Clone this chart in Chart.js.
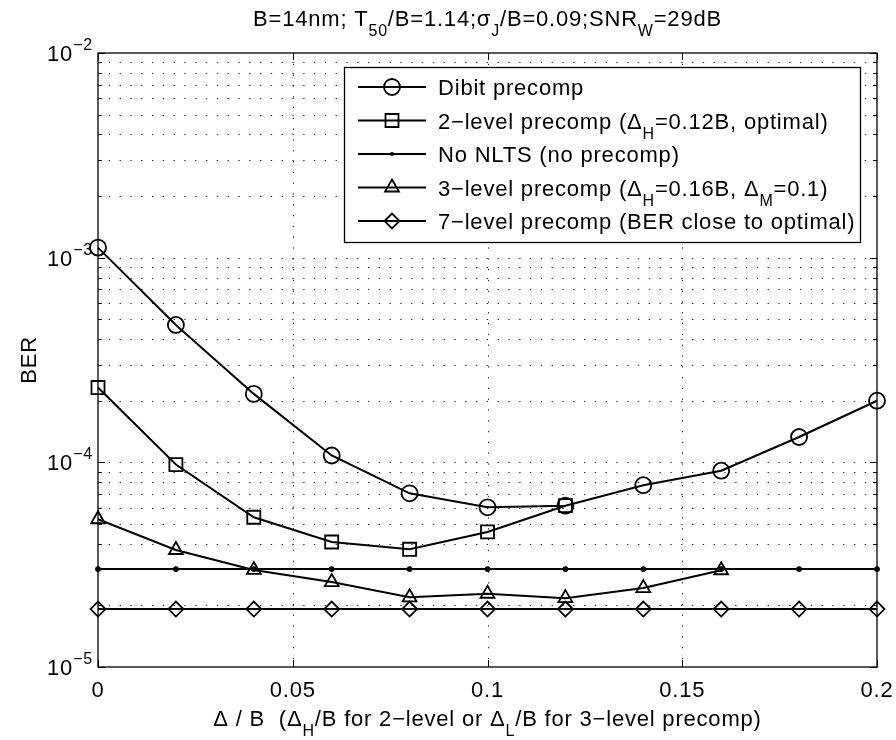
<!DOCTYPE html>
<html>
<head>
<meta charset="utf-8">
<script src="https://cdn.jsdelivr.net/npm/chart.js@4.4.1/dist/chart.umd.min.js"></script>
<style>
  html, body { margin: 0; padding: 0; background: #ffffff; }
  #wrap { width: 896px; height: 740px; position: relative; }
</style>
</head>
<body>
<div id="wrap"><canvas id="ber" width="896" height="740"></canvas></div>
<script>
// Δ/B offsets sampled in the simulation
const offsets = [0, 0.02, 0.04, 0.06, 0.08, 0.1, 0.12, 0.14, 0.16, 0.18, 0.2];

// BER per precompensation scheme
const dibitBER      = [1.12e-3, 4.69e-4, 2.16e-4, 1.08e-4, 7.06e-5, 6.03e-5, 6.14e-5, 7.73e-5, 9.1e-5, 1.33e-4, 2.0e-4];
const twoLevelBER   = [2.32e-4, 9.75e-5, 5.39e-5, 4.08e-5, 3.76e-5, 4.57e-5, 6.14e-5];
const noNltsBER     = [3.01e-5, 3.01e-5, 3.01e-5, 3.01e-5, 3.01e-5, 3.01e-5, 3.01e-5, 3.01e-5, 3.01e-5, 3.01e-5, 3.01e-5];
const threeLevelBER = [5.27e-5, 3.73e-5, 2.98e-5, 2.6e-5, 2.19e-5, 2.28e-5, 2.17e-5, 2.43e-5, 2.97e-5];
const sevenLevelBER = [1.92e-5, 1.92e-5, 1.92e-5, 1.92e-5, 1.92e-5, 1.92e-5, 1.92e-5, 1.92e-5, 1.92e-5, 1.92e-5, 1.92e-5];

// axis ticks
const xTickValues = [0, 0.05, 0.1, 0.15, 0.2];
const xTickLabels = ['0', '0.05', '0.1', '0.15', '0.2'];
const yDecadeExponents = [-5, -4, -3, -2];

// text pieces: [text, mode]  mode 0 = normal, 1 = subscript, 2 = superscript
const titleParts = [['B=14nm; T', 0], ['50', 1], ['/B=1.14;σ', 0], ['J', 1], ['/B=0.09;SNR', 0], ['W', 1], ['=29dB', 0]];
const xLabelParts = [['Δ / B  (Δ', 0], ['H', 1], ['/B for 2−level or Δ', 0], ['L', 1], ['/B for 3−level precomp)', 0]];
const yLabelText = 'BER';
const legendLabels = [
  [['Dibit precomp', 0]],
  [['2−level precomp (Δ', 0], ['H', 1], ['=0.12B, optimal)', 0]],
  [['No NLTS (no precomp)', 0]],
  [['3−level precomp (Δ', 0], ['H', 1], ['=0.16B, Δ', 0], ['M', 1], ['=0.1)', 0]],
  [['7−level precomp (BER close to optimal)', 0]]
];

const FONT = '"Liberation Sans", Arial, Helvetica, sans-serif';
const FS = 22;
const SMALL = 16;
const SPACING = '0.8px';

function toPoints(values) {
  return values.map((v, i) => ({ x: offsets[i], y: v }));
}

function setFont(ctx, size) {
  ctx.font = size + 'px ' + FONT;
  if ('letterSpacing' in ctx) ctx.letterSpacing = SPACING;
}

function richWidth(ctx, parts, size) {
  let w = 0;
  for (const [t, m] of parts) {
    setFont(ctx, m ? SMALL : size);
    w += ctx.measureText(t).width;
  }
  return w;
}

function drawRich(ctx, parts, x, baseline, align, size) {
  const total = richWidth(ctx, parts, size);
  let cx = align === 'center' ? x - total / 2 : align === 'right' ? x - total : x;
  ctx.textAlign = 'left';
  ctx.textBaseline = 'alphabetic';
  for (const [t, m] of parts) {
    setFont(ctx, m ? SMALL : size);
    const dy = m === 1 ? 10 : m === 2 ? -11 : 0;
    ctx.fillText(t, cx, baseline + dy);
    cx += ctx.measureText(t).width;
  }
  return total;
}

function drawMarker(ctx, style, r, x, y, bw) {
  ctx.save();
  ctx.lineWidth = bw;
  ctx.strokeStyle = '#000';
  ctx.fillStyle = '#000';
  ctx.beginPath();
  if (style === 'circle' || style === 'dot') {
    ctx.arc(x, y, r, 0, Math.PI * 2);
  } else if (style === 'rect') {
    const s = r * Math.SQRT1_2;
    ctx.rect(x - s, y - s, 2 * s, 2 * s);
  } else if (style === 'triangle') {
    for (let k = 0; k < 3; k++) {
      const a = k * 2 * Math.PI / 3;
      const px = x + Math.sin(a) * r, py = y - Math.cos(a) * r;
      if (k === 0) ctx.moveTo(px, py); else ctx.lineTo(px, py);
    }
    ctx.closePath();
  } else if (style === 'rectRot') {
    ctx.moveTo(x - r, y); ctx.lineTo(x, y - r); ctx.lineTo(x + r, y); ctx.lineTo(x, y + r);
    ctx.closePath();
  }
  if (style === 'dot') ctx.fill(); else ctx.stroke();
  ctx.restore();
}

const seriesStyles = [
  { label: 'Dibit precomp', data: dibitBER, pointStyle: 'circle', pointRadius: 8, legend: 'circle' },
  { label: '2-level', data: twoLevelBER, pointStyle: 'rect', pointRadius: 9.2, legend: 'rect' },
  { label: 'No NLTS', data: noNltsBER, pointStyle: 'circle', pointRadius: 2, legend: 'dot', filled: true },
  { label: '3-level', data: threeLevelBER, pointStyle: 'triangle', pointRadius: 8, legend: 'triangle' },
  { label: '7-level', data: sevenLevelBER, pointStyle: 'rectRot', pointRadius: 7.5, legend: 'rectRot' }
];

// dotted grid beneath the curves, frame / ticks / text / legend on top
const gridPlugin = {
  id: 'matlabGrid',
  beforeDatasetsDraw(chart) {
    const { ctx, chartArea: a, scales: { x, y } } = chart;
    ctx.save();
    ctx.strokeStyle = '#222';
    ctx.lineWidth = 1;
    ctx.setLineDash([1.3, 9.5]);
    for (const v of xTickValues) {
      const px = Math.round(x.getPixelForValue(v)) + 0.5;
      if (px <= a.left + 1 || px >= a.right - 1) continue;
      ctx.beginPath(); ctx.moveTo(px, a.top); ctx.lineTo(px, a.bottom); ctx.stroke();
    }
    for (const e of yDecadeExponents) {
      if (e === -2) continue;
      for (let m = 1; m <= 9; m++) {
        const v = m * Math.pow(10, e);
        const py = Math.round(y.getPixelForValue(v)) + 0.5;
        if (py >= a.bottom - 1 || py <= a.top + 1) continue;
        ctx.beginPath(); ctx.moveTo(a.left, py); ctx.lineTo(a.right, py); ctx.stroke();
      }
    }
    ctx.restore();
  },
  afterDraw(chart) {
    const { ctx, chartArea: a, scales: { x, y } } = chart;
    ctx.save();
    // frame
    ctx.strokeStyle = '#000';
    ctx.lineWidth = 1.3;
    ctx.strokeRect(a.left, a.top, a.right - a.left, a.bottom - a.top);
    // tick marks (inside, on all four sides)
    ctx.lineWidth = 1;
    ctx.beginPath();
    for (const v of xTickValues) {
      const px = Math.round(x.getPixelForValue(v)) + 0.5;
      ctx.moveTo(px, a.bottom); ctx.lineTo(px, a.bottom - 7);
      ctx.moveTo(px, a.top); ctx.lineTo(px, a.top + 7);
    }
    for (const e of yDecadeExponents) {
      for (let m = 1; m <= 9; m++) {
        if (e === -2 && m > 1) break;
        const v = m * Math.pow(10, e);
        const py = Math.round(y.getPixelForValue(v)) + 0.5;
        const len = m === 1 ? 7 : 4;
        ctx.moveTo(a.left, py); ctx.lineTo(a.left + len, py);
        ctx.moveTo(a.right, py); ctx.lineTo(a.right - len, py);
      }
    }
    ctx.stroke();

    ctx.fillStyle = '#000';
    // x tick labels
    setFont(ctx, FS);
    ctx.textAlign = 'center';
    ctx.textBaseline = 'alphabetic';
    xTickValues.forEach((v, i) => {
      ctx.fillText(xTickLabels[i], x.getPixelForValue(v), a.bottom + 30);
    });
    // y tick labels 10^e
    for (const e of yDecadeExponents) {
      const py = y.getPixelForValue(Math.pow(10, e));
      const parts = [['10', 0], ['−' + Math.abs(e), 2]];
      drawRich(ctx, parts, a.left - 5, py + 8, 'right', FS);
    }
    // title, axis labels
    const cx = (a.left + a.right) / 2;
    drawRich(ctx, titleParts, cx, 26, 'center', FS);
    drawRich(ctx, xLabelParts, cx, 726, 'center', FS);
    ctx.save();
    ctx.translate(30, (a.top + a.bottom) / 2);
    ctx.rotate(-Math.PI / 2);
    setFont(ctx, FS);
    ctx.textAlign = 'center';
    ctx.textBaseline = 'middle';
    ctx.fillText(yLabelText, 0, 0);
    ctx.restore();

    // legend
    const L = { left: 344, top: 67, right: 860, bottom: 242 };
    ctx.fillStyle = '#fff';
    ctx.fillRect(L.left, L.top, L.right - L.left, L.bottom - L.top);
    ctx.strokeStyle = '#000';
    ctx.lineWidth = 1.3;
    ctx.strokeRect(L.left + 0.5, L.top + 0.5, L.right - L.left, L.bottom - L.top);
    legendLabels.forEach((parts, i) => {
      const ry = L.top + 20 + i * 33.5;
      ctx.strokeStyle = '#000';
      ctx.lineWidth = 2;
      ctx.beginPath(); ctx.moveTo(358, ry); ctx.lineTo(426, ry); ctx.stroke();
      const s = seriesStyles[i];
      drawMarker(ctx, s.legend, s.pointRadius, 392, ry, 1.8);
      ctx.fillStyle = '#000';
      drawRich(ctx, parts, 438, ry + 8, 'left', FS);
    });
    ctx.restore();
  }
};

new Chart(document.getElementById('ber'), {
  type: 'line',
  data: {
    datasets: seriesStyles.map(s => ({
      label: s.label,
      data: toPoints(s.data),
      borderColor: '#000',
      borderWidth: 2,
      pointStyle: s.pointStyle,
      pointRadius: s.pointRadius,
      pointBorderWidth: 1.8,
      pointBorderColor: '#000',
      pointBackgroundColor: s.filled ? '#000' : 'rgba(0,0,0,0)',
      tension: 0,
      fill: false,
      clip: false
    }))
  },
  options: {
    responsive: false,
    devicePixelRatio: 1,
    animation: false,
    events: [],
    layout: { padding: { top: 53, right: 19, left: 0, bottom: 0 } },
    plugins: { legend: { display: false }, title: { display: false }, tooltip: { enabled: false } },
    scales: {
      x: {
        type: 'linear', min: 0, max: 0.2,
        ticks: { display: false },
        grid: { display: false },
        border: { display: false },
        afterFit(s) { s.height = 73; }
      },
      y: {
        type: 'logarithmic', min: 1e-5, max: 1e-2,
        ticks: { display: false },
        grid: { display: false },
        border: { display: false },
        afterFit(s) { s.width = 98; }
      }
    }
  },
  plugins: [gridPlugin]
});
</script>
</body>
</html>
